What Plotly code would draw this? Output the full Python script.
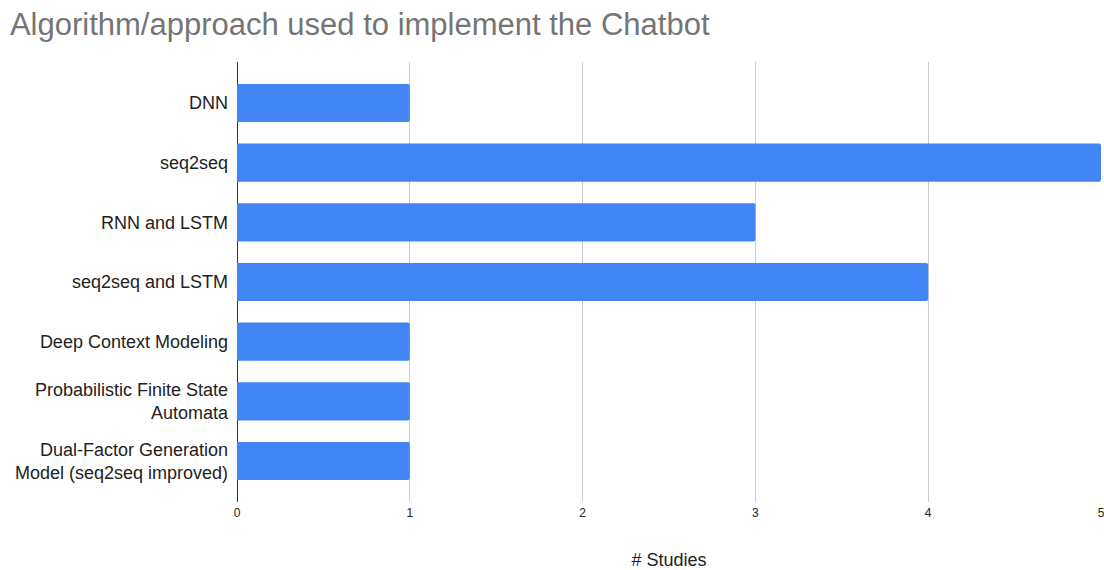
import plotly.graph_objects as go

categories = [
    "DNN",
    "seq2seq",
    "RNN and LSTM",
    "seq2seq and LSTM",
    "Deep Context Modeling",
    "Probabilistic Finite State<br>Automata",
    "Dual-Factor Generation<br>Model (seq2seq improved)",
]
studies = [1, 5, 3, 4, 1, 1, 1]
x_ticks = [0, 1, 2, 3, 4, 5]

fig = go.Figure(
    go.Bar(
        x=studies,
        y=categories,
        orientation="h",
        marker=dict(color="#4285F4", line=dict(width=0), cornerradius=2),
        width=0.64,
    )
)

fig.update_layout(
    width=1104,
    height=570,
    margin=dict(l=237, r=3, t=62, b=68, autoexpand=False),
    paper_bgcolor="white",
    plot_bgcolor="white",
    font=dict(family="Liberation Sans, Arial, sans-serif", color="#222222"),
    title=dict(
        text="Algorithm/approach used to implement the Chatbot",
        x=0.009,
        xanchor="left",
        y=0.958,
        yanchor="middle",
        font=dict(size=31, color="#757575"),
    ),
    showlegend=False,
)

fig.update_xaxes(
    range=[0, 5],
    tickvals=x_ticks,
    ticktext=[str(v) for v in x_ticks],
    showgrid=True,
    gridcolor="#cccccc",
    gridwidth=1,
    zeroline=True,
    zerolinecolor="#333333",
    zerolinewidth=1,
    tickfont=dict(size=12, color="#222222"),
    ticks="",
    ticklabelstandoff=2,
    ticklabeloverflow="allow",
    title=dict(text="# Studies", font=dict(size=18, color="#222222"), standoff=36),
    fixedrange=True,
)

fig.update_yaxes(
    range=[6.687, -0.687],
    tickfont=dict(size=18, color="#222222"),
    ticks="",
    ticklabelstandoff=8,
    showgrid=False,
    fixedrange=True,
)

fig.write_html(
    "out.html",
    config={"displayModeBar": False},
    post_script="document.body.style.margin='0';document.body.style.padding='0';",
)
